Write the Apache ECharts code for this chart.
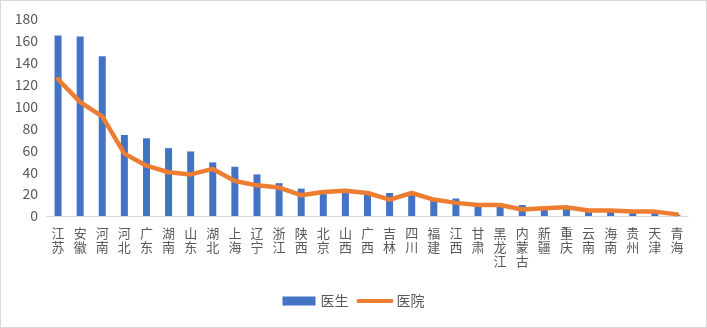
<!DOCTYPE html>
<html>
<head>
<meta charset="utf-8">
<script src="https://cdn.jsdelivr.net/npm/echarts@6/dist/echarts.min.js"></script>
<style>
html,body{margin:0;padding:0;background:#fff;}
#c{width:707px;height:328px;box-sizing:border-box;border:1px solid #d9d9d9;}
</style>
</head>
<body>
<div id="c"></div>
<script>
const categories = ['江苏','安徽','河南','河北','广东','湖南','山东','湖北','上海','辽宁','浙江','陕西','北京','山西','广西','吉林','四川','福建','江西','甘肃','黑龙江','内蒙古','新疆','重庆','云南','海南','贵州','天津','青海'];
const doctors = [165,164,146,74,71,62,59,49,45,38,30,25,20,23,21,21,20,16,16,11,10,10,7,7,5,4,3,3,1];
const hospitals = [125,104,91,57,46,40,38,43,32,28,26,19,22,23,21,15,21,15,12,10,10,6,7,8,5,5,4,4,1.5];
const yTicks = [0,20,40,60,80,100,120,140,160,180];
const seriesNames = ['医生','医院'];

const chart = echarts.init(document.getElementById('c'));
chart.setOption({
  animation:false,
  textStyle:{fontFamily:'"Noto Sans CJK SC", "Noto Sans", sans-serif'},
  grid:{left:46,right:18,top:18,bottom:111,containLabel:false},
  legend:{
    bottom:14,left:'center',
    itemWidth:33,itemHeight:9,itemGap:8,
    textStyle:{color:'#595959',fontSize:14},
    data:[
      {name:seriesNames[0],icon:'rect'},
      {name:seriesNames[1],itemStyle:{opacity:0},lineStyle:{width:4,color:'#ED7D31'}}
    ]
  },
  xAxis:{
    type:'category',data:categories,
    axisLine:{lineStyle:{color:'#d9d9d9'}},
    axisTick:{show:false},
    axisLabel:{
      interval:0,color:'#595959',fontSize:13,lineHeight:14,margin:10,
      formatter:v=>v.split('').join('\n')
    }
  },
  yAxis:{
    type:'value',min:yTicks[0],max:yTicks[yTicks.length-1],interval:20,
    axisLine:{show:false},axisTick:{show:false},splitLine:{show:false},
    axisLabel:{color:'#595959',fontSize:14,margin:9}
  },
  series:[
    {name:seriesNames[0],type:'bar',data:doctors,barWidth:7,itemStyle:{color:'#4472C4'}},
    {name:seriesNames[1],type:'line',data:hospitals,symbol:'none',smooth:false,
     lineStyle:{color:'#ED7D31',width:4.5,cap:'round',join:'round'},itemStyle:{color:'#ED7D31'}}
  ]
});
</script>
</body>
</html>
